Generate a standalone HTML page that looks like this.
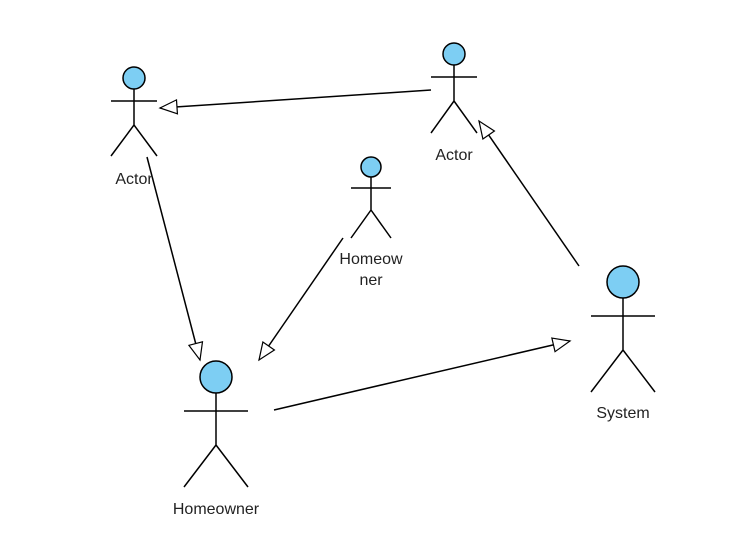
<!DOCTYPE html>
<html><head><meta charset="utf-8"><style>
html,body{margin:0;padding:0;background:#fff;width:751px;height:543px;overflow:hidden}
text{font-family:"Liberation Sans",sans-serif;font-size:16px;fill:#222;text-anchor:middle}
</style></head><body>
<svg width="751" height="543" viewBox="0 0 751 543" xmlns="http://www.w3.org/2000/svg">
<defs>
<marker id="t" markerUnits="userSpaceOnUse" markerWidth="20" markerHeight="18" refX="18" refY="8" orient="auto">
<path d="M1,1 L18,8 L1,15 z" fill="#fff" stroke="#000" stroke-width="1.2"/>
</marker>
</defs>
<g stroke="#000" stroke-width="1.5" fill="none">
<line x1="431" y1="90" x2="160" y2="108" marker-end="url(#t)"/>
<line x1="147" y1="157" x2="200" y2="360" marker-end="url(#t)"/>
<line x1="343" y1="238" x2="259" y2="360" marker-end="url(#t)"/>
<line x1="274" y1="410" x2="570" y2="341" marker-end="url(#t)"/>
<line x1="579" y1="266" x2="479" y2="121" marker-end="url(#t)"/>
</g>
<g stroke="#000" stroke-width="1.5">
<circle cx="134" cy="78" r="11" fill="#7dcef3"/>
<path d="M134 89V125M111 101H157M134 125L111 156M134 125L157 156" fill="none"/>
<circle cx="454" cy="54" r="11" fill="#7dcef3"/>
<path d="M454 65V101M431 77H477M454 101L431 133M454 101L477 133" fill="none"/>
<circle cx="371" cy="167" r="10" fill="#7dcef3"/>
<path d="M371 177V210M351 188H391M371 210L351 238M371 210L391 238" fill="none"/>
<circle cx="216" cy="377" r="16" fill="#7dcef3"/>
<path d="M216 393V445M184 411H248M216 445L184 487M216 445L248 487" fill="none"/>
<circle cx="623" cy="282" r="16" fill="#7dcef3"/>
<path d="M623 298V350M591 316H655M623 350L591 392M623 350L655 392" fill="none"/>
</g>
<text x="134" y="184">Actor</text>
<text x="454" y="160">Actor</text>
<text x="371" y="264">Homeow</text>
<text x="371" y="285">ner</text>
<text x="216" y="514">Homeowner</text>
<text x="623" y="418">System</text>
</svg>
</body></html>
